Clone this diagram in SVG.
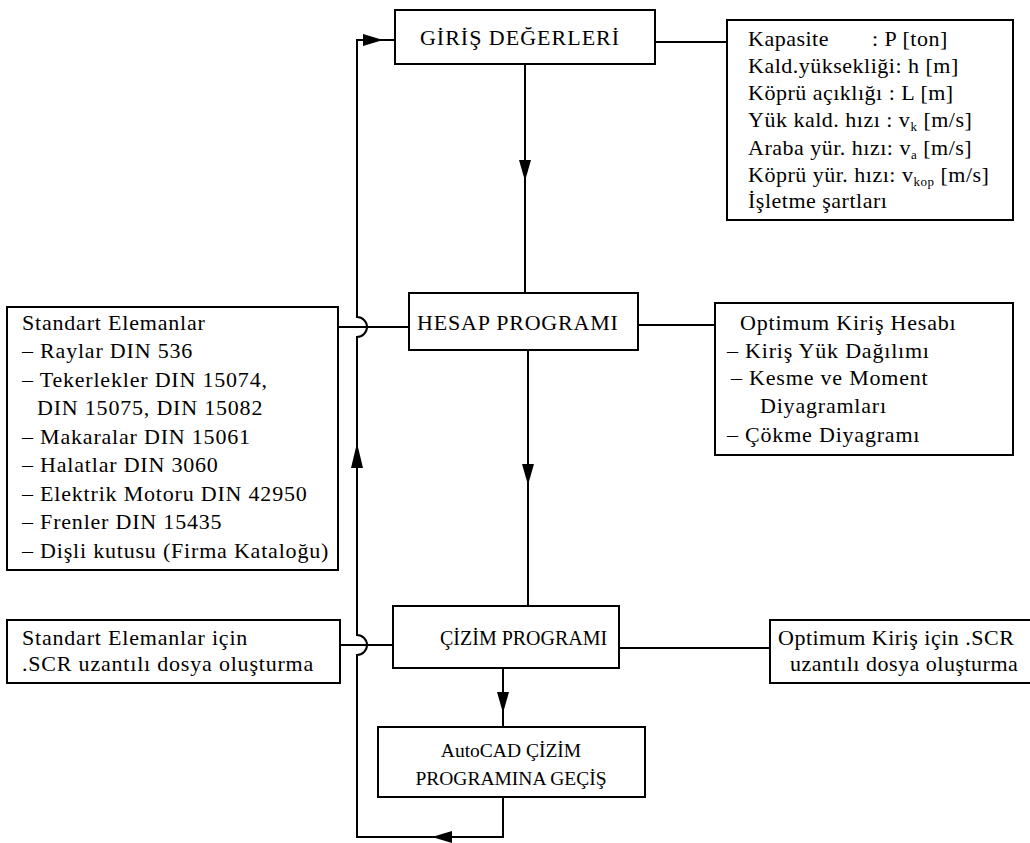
<svg xmlns="http://www.w3.org/2000/svg" width="1030" height="843" viewBox="0 0 1030 843" font-family="'Liberation Serif', serif">
<style>
  .box{fill:#fff;stroke:#000;stroke-width:2}
  .ln{fill:none;stroke:#000;stroke-width:2}
  .arr{fill:#000;stroke:none}
  text{font-family:'Liberation Serif',serif;font-size:22px;fill:#000}
  .sub{font-size:13px}
  .w1{letter-spacing:0.5px}
  .w2{letter-spacing:0.8px}
  .w3{letter-spacing:1px}
</style>
<rect width="1030" height="843" fill="#fff"/>
<g id="connectors">
  <path class="ln" d="M395,40 L357,40 L357,317 A10,10 0 0 1 357,337 L357,635 A10,10 0 0 1 357,655 L357,837 L503,837 L503,797"/>
  <path class="ln" d="M525,64 L525,293"/>
  <path class="ln" d="M655,42 L727,42"/>
  <path class="ln" d="M338,327 L409,327"/>
  <path class="ln" d="M638,325 L715,325"/>
  <path class="ln" d="M528,350 L528,606"/>
  <path class="ln" d="M340,645 L393,645"/>
  <path class="ln" d="M619,648 L770,648"/>
  <path class="ln" d="M503,668 L503,727"/>
  <polygon class="arr" points="519,160 531,160 525,181"/>
  <polygon class="arr" points="522,464 534,464 528,485"/>
  <polygon class="arr" points="497,692 509,692 503,713"/>
  <polygon class="arr" points="351,468 363,468 357,443"/>
  <polygon class="arr" points="363,34 363,46 383,40"/>
  <polygon class="arr" points="452,831 452,843 432,837"/>
</g>
<g id="giris">
  <rect class="box" x="395" y="10" width="260" height="54"/>
  <text class="w3" x="520" y="45" text-anchor="middle">GİRİŞ DEĞERLERİ</text>
</g>
<g id="girdiler">
  <rect class="box" x="727" y="20" width="286" height="200"/>
  <g class="w1">
  <text x="748" y="46">Kapasite</text>
  <text x="872" y="46">: P [ton]</text>
  <text x="748" y="73">Kald.yüksekliği: h [m]</text>
  <text x="748" y="100">Köprü açıklığı : L [m]</text>
  <text x="748" y="127">Yük kald. hızı : v<tspan class="sub" dy="4">k</tspan><tspan dy="-4"> [m/s]</tspan></text>
  <text x="748" y="155">Araba yür. hızı: v<tspan class="sub" dy="4">a</tspan><tspan dy="-4"> [m/s]</tspan></text>
  <text x="748" y="182">Köprü yür. hızı: v<tspan class="sub" dy="4">kop</tspan><tspan dy="-4"> [m/s]</tspan></text>
  <text x="748" y="208">İşletme şartları</text>
  </g>
</g>
<g id="hesap">
  <rect class="box" x="409" y="293" width="229" height="57"/>
  <text class="w2" x="417" y="330">HESAP PROGRAMI</text>
</g>
<g id="standart">
  <rect class="box" x="7" y="307" width="331" height="263"/>
  <g class="w2">
  <text x="22" y="330">Standart Elemanlar</text>
  <text x="22" y="358">– Raylar DIN 536</text>
  <text x="22" y="387">– Tekerlekler DIN 15074,</text>
  <text x="37" y="415">DIN 15075, DIN 15082</text>
  <text x="22" y="444">– Makaralar DIN 15061</text>
  <text x="22" y="472">– Halatlar DIN 3060</text>
  <text x="22" y="501">– Elektrik Motoru DIN 42950</text>
  <text x="22" y="529">– Frenler DIN 15435</text>
  <text x="22" y="558">– Dişli kutusu (Firma Kataloğu)</text>
  </g>
</g>
<g id="optimum">
  <rect class="box" x="715" y="303" width="298" height="152"/>
  <g class="w2">
  <text x="740" y="330">Optimum Kiriş Hesabı</text>
  <text x="727" y="358">– Kiriş Yük Dağılımı</text>
  <text x="731" y="385">– Kesme ve Moment</text>
  <text x="760" y="413">Diyagramları</text>
  <text x="727" y="442">– Çökme Diyagramı</text>
  </g>
</g>
<g id="cizim">
  <rect class="box" x="393" y="606" width="226" height="62"/>
  <text x="440" y="645" style="font-size:20px">ÇİZİM PROGRAMI</text>
</g>
<g id="scr-standart">
  <rect class="box" x="7" y="620" width="333" height="63"/>
  <g class="w2">
  <text x="22" y="645">Standart Elemanlar için</text>
  <text x="22" y="671">.SCR uzantılı dosya oluşturma</text>
  </g>
</g>
<g id="scr-optimum">
  <rect class="box" x="770" y="620" width="270" height="63"/>
  <g class="w1">
  <text x="778" y="645">Optimum Kiriş için .SCR</text>
  <text x="790" y="671">uzantılı dosya oluşturma</text>
  </g>
</g>
<g id="autocad">
  <rect class="box" x="378" y="727" width="267" height="70"/>
  <text x="511" y="757" text-anchor="middle" style="font-size:19.5px">AutoCAD ÇİZİM</text>
  <text x="511" y="785" text-anchor="middle" style="font-size:19.5px">PROGRAMINA GEÇİŞ</text>
</g>
</svg>
